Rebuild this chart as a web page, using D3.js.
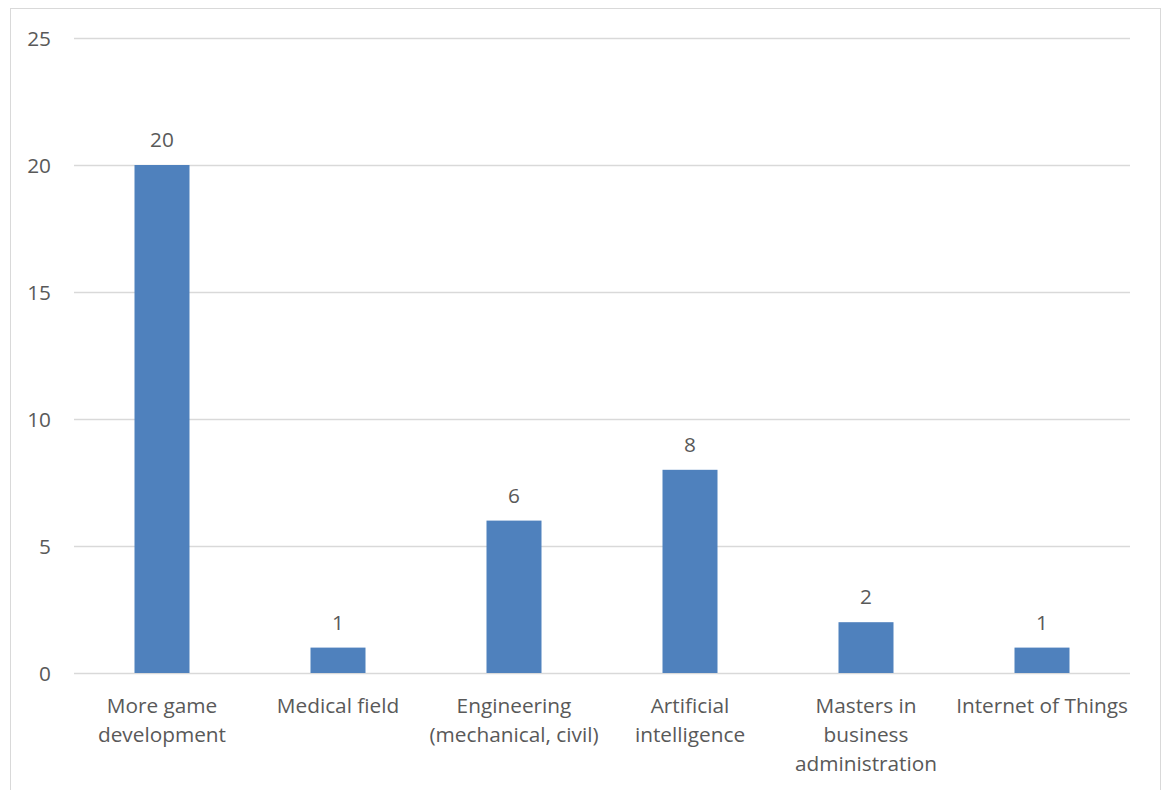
<!DOCTYPE html>
<html>
<head>
<meta charset="utf-8">
<script src="https://cdn.jsdelivr.net/npm/d3@7"></script>
<style>
  html, body { margin: 0; padding: 0; background: #fff; }
  svg { display: block; }
  text { font-family: "Open Sans", Lato, sans-serif; fill: #595959; }
</style>
</head>
<body>
<svg id="chart" width="1165" height="790"></svg>
<script>
// Career interests after graduation
const categories = [
  "More game development",
  "Medical field",
  "Engineering (mechanical, civil)",
  "Artificial intelligence",
  "Masters in business administration",
  "Internet of Things"
];
// Wrapped axis labels, one array of lines per category
const categoryLines = [
  ["More game", "development"],
  ["Medical field"],
  ["Engineering", "(mechanical, civil)"],
  ["Artificial", "intelligence"],
  ["Masters in", "business", "administration"],
  ["Internet of Things"]
];
const counts = [20, 1, 6, 8, 2, 1];
const yTicks = [0, 5, 10, 15, 20, 25];

const FONT = "'Open Sans', Lato, sans-serif";
const FS = "20.8px";

const svg = d3.select("#chart");
const plot = { left: 74, right: 1130, top: 38, bottom: 673 };

// Outer chart frame
svg.append("rect")
  .attr("x", 10.5).attr("y", 8.5)
  .attr("width", 1150).attr("height", 800)
  .attr("fill", "#fff").attr("stroke", "#d9d9d9").attr("stroke-width", 1);

const x = d3.scaleBand()
  .domain(categories)
  .range([plot.left, plot.right])
  .paddingInner(0.6875)
  .paddingOuter(0.34375);

const y = d3.scaleLinear()
  .domain([0, 25])
  .range([plot.bottom, plot.top]);

// Horizontal gridlines
svg.append("g")
  .selectAll("line")
  .data(yTicks)
  .join("line")
  .attr("x1", plot.left).attr("x2", plot.right)
  .attr("y1", d => Math.round(y(d)) + 0.5)
  .attr("y2", d => Math.round(y(d)) + 0.5)
  .attr("stroke", "#d9d9d9").attr("stroke-width", 1.3);

// Y axis tick labels
const yAxis = d3.axisLeft(y).tickValues(yTicks).tickSize(0).tickPadding(0);
const gy = svg.append("g")
  .attr("transform", `translate(${plot.left - 23},0)`)
  .call(yAxis);
gy.select(".domain").remove();
gy.selectAll("text")
  .style("font-family", FONT)
  .style("font-size", FS)
  .attr("fill", "#595959")
  .attr("dy", "0.36em");

// Bars
svg.append("g")
  .selectAll("rect")
  .data(counts)
  .join("rect")
  .attr("x", (d, i) => x(categories[i]))
  .attr("width", x.bandwidth())
  .attr("y", d => y(d))
  .attr("height", d => y(0) - y(d))
  .attr("fill", "#4f81bd");

// Value labels above bars
svg.append("g")
  .selectAll("text")
  .data(counts)
  .join("text")
  .attr("x", (d, i) => x(categories[i]) + x.bandwidth() / 2)
  .attr("y", d => y(d) - 18)
  .attr("text-anchor", "middle")
  .style("font-size", FS)
  .text(d => d);

// Category labels beneath the axis
const xLabels = svg.append("g")
  .selectAll("text")
  .data(categories)
  .join("text")
  .attr("x", d => x(d) + x.bandwidth() / 2)
  .attr("y", plot.bottom + 40)
  .attr("text-anchor", "middle")
  .style("font-size", FS);
xLabels.selectAll("tspan")
  .data((d, i) => categoryLines[i])
  .join("tspan")
  .attr("x", function () { return this.parentNode.getAttribute("x"); })
  .attr("dy", (d, i) => i === 0 ? 0 : 29)
  .text(d => d);
</script>
</body>
</html>
